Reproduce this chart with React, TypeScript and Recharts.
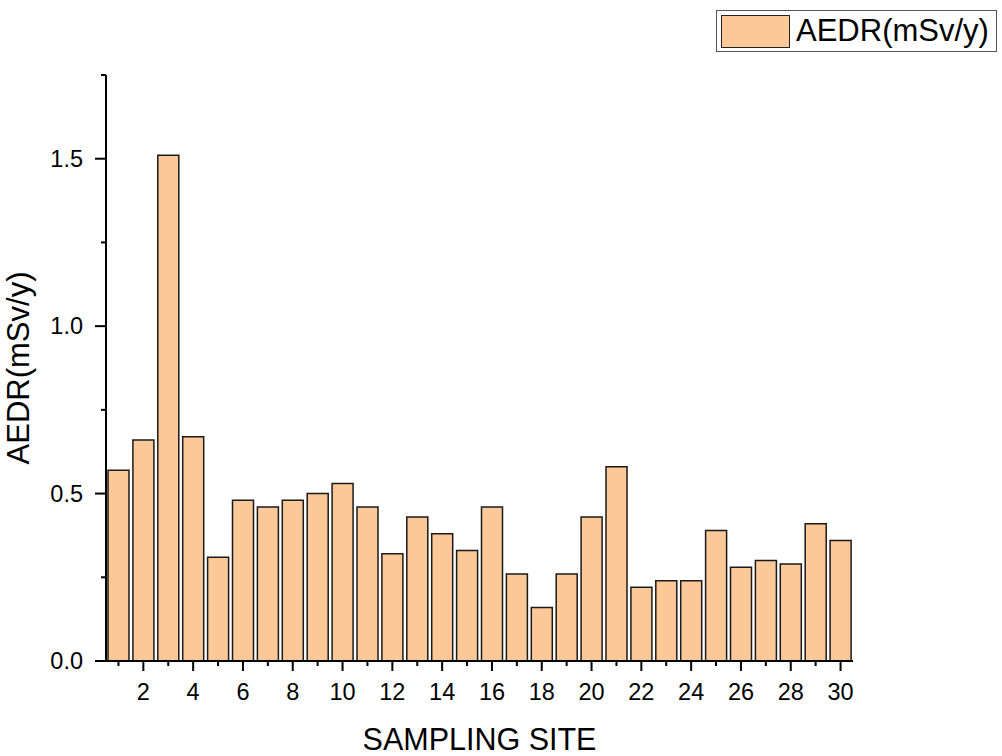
import React from "react";
import { BarChart, Bar, XAxis, YAxis } from "recharts";

const sites: number[] = Array.from({ length: 30 }, (_, i) => i + 1);
const aedr: number[] = [
  0.57, 0.66, 1.51, 0.67, 0.31, 0.48, 0.46, 0.48, 0.5, 0.53,
  0.46, 0.32, 0.43, 0.38, 0.33, 0.46, 0.26, 0.16, 0.26, 0.43,
  0.58, 0.22, 0.24, 0.24, 0.39, 0.28, 0.3, 0.29, 0.41, 0.36,
];
const yTicks: number[] = [0, 0.25, 0.5, 0.75, 1, 1.25, 1.5, 1.75];
const seriesName = "AEDR(mSv/y)";
const xTitle = "SAMPLING SITE";
const yTitle = "AEDR(mSv/y)";

const data = sites.map((s, i) => ({ site: s, value: aedr[i] }));

const FONT = "'Liberation Sans', Arial, sans-serif";
const FILL = "#FDC897";

const XTick = (props: any) => {
  const { x, y, payload } = props;
  const v = Number(payload.value);
  const major = v % 2 === 0;
  return (
    <g>
      <line x1={x} x2={x} y1={y} y2={y + (major ? 10 : 5)} stroke="#000" strokeWidth={2} />
      {major && (
        <text x={x} y={y + 31} textAnchor="middle" dominantBaseline="central" fontSize={23.5} fontFamily={FONT} fill="#000">
          {v}
        </text>
      )}
    </g>
  );
};

const YTick = (props: any) => {
  const { x, y, payload } = props;
  const v = Number(payload.value);
  const major = Math.abs((v * 2) - Math.round(v * 2)) < 1e-6;
  return (
    <g>
      <line x1={x - (major ? 11 : 5)} x2={x} y1={y} y2={y} stroke="#000" strokeWidth={2} />
      {major && (
        <text x={x - 23} y={y} textAnchor="end" dominantBaseline="central" fontSize={23.5} fontFamily={FONT} fill="#000">
          {v.toFixed(1)}
        </text>
      )}
    </g>
  );
};

const LegendBox = () => (
  <div
    style={{
      position: "absolute",
      left: 716,
      top: 10,
      width: 281,
      height: 42,
      border: "1px solid #555",
      boxSizing: "border-box",
      display: "flex",
      alignItems: "center",
      background: "#fff",
      fontFamily: FONT,
    }}
  >
    <div style={{ width: 69, height: 33, marginLeft: 4, background: FILL, border: "1.5px solid #222", boxSizing: "border-box" }} />
    <span style={{ marginLeft: 6, fontSize: 31, color: "#000", lineHeight: "40px", whiteSpace: "nowrap" }}>{seriesName}</span>
  </div>
);

export default function App() {
  return (
    <div style={{ position: "absolute", left: 0, top: 0, width: 1002, height: 756, background: "#fff" }}>
      <BarChart width={1002} height={756} data={data} margin={{ top: 75, right: 149, bottom: 0, left: 0 }}>
        <XAxis
          dataKey="site"
          type="category"
          interval={0}
          height={95}
          tickSize={0}
          tickMargin={0}
          tickLine={false}
          axisLine={{ stroke: "#000", strokeWidth: 2 }}
          tick={<XTick />}
          label={{ value: xTitle, position: "insideBottom", offset: 6, fontSize: 30.5, fontFamily: FONT, fill: "#000" }}
        />
        <YAxis
          type="number"
          domain={[0, 1.75]}
          ticks={yTicks}
          interval={0}
          width={106}
          tickSize={0}
          tickMargin={0}
          tickLine={false}
          axisLine={{ stroke: "#000", strokeWidth: 2 }}
          tick={<YTick />}
          label={{ value: yTitle, angle: -90, position: "insideLeft", offset: 18, fontSize: 31, fontFamily: FONT, fill: "#000", style: { textAnchor: "middle" } }}
        />
        <Bar dataKey="value" name={seriesName} fill={FILL} stroke="#1a1a1a" strokeWidth={1.5} barSize={21} isAnimationActive={false} />
      </BarChart>
      <LegendBox />
    </div>
  );
}
